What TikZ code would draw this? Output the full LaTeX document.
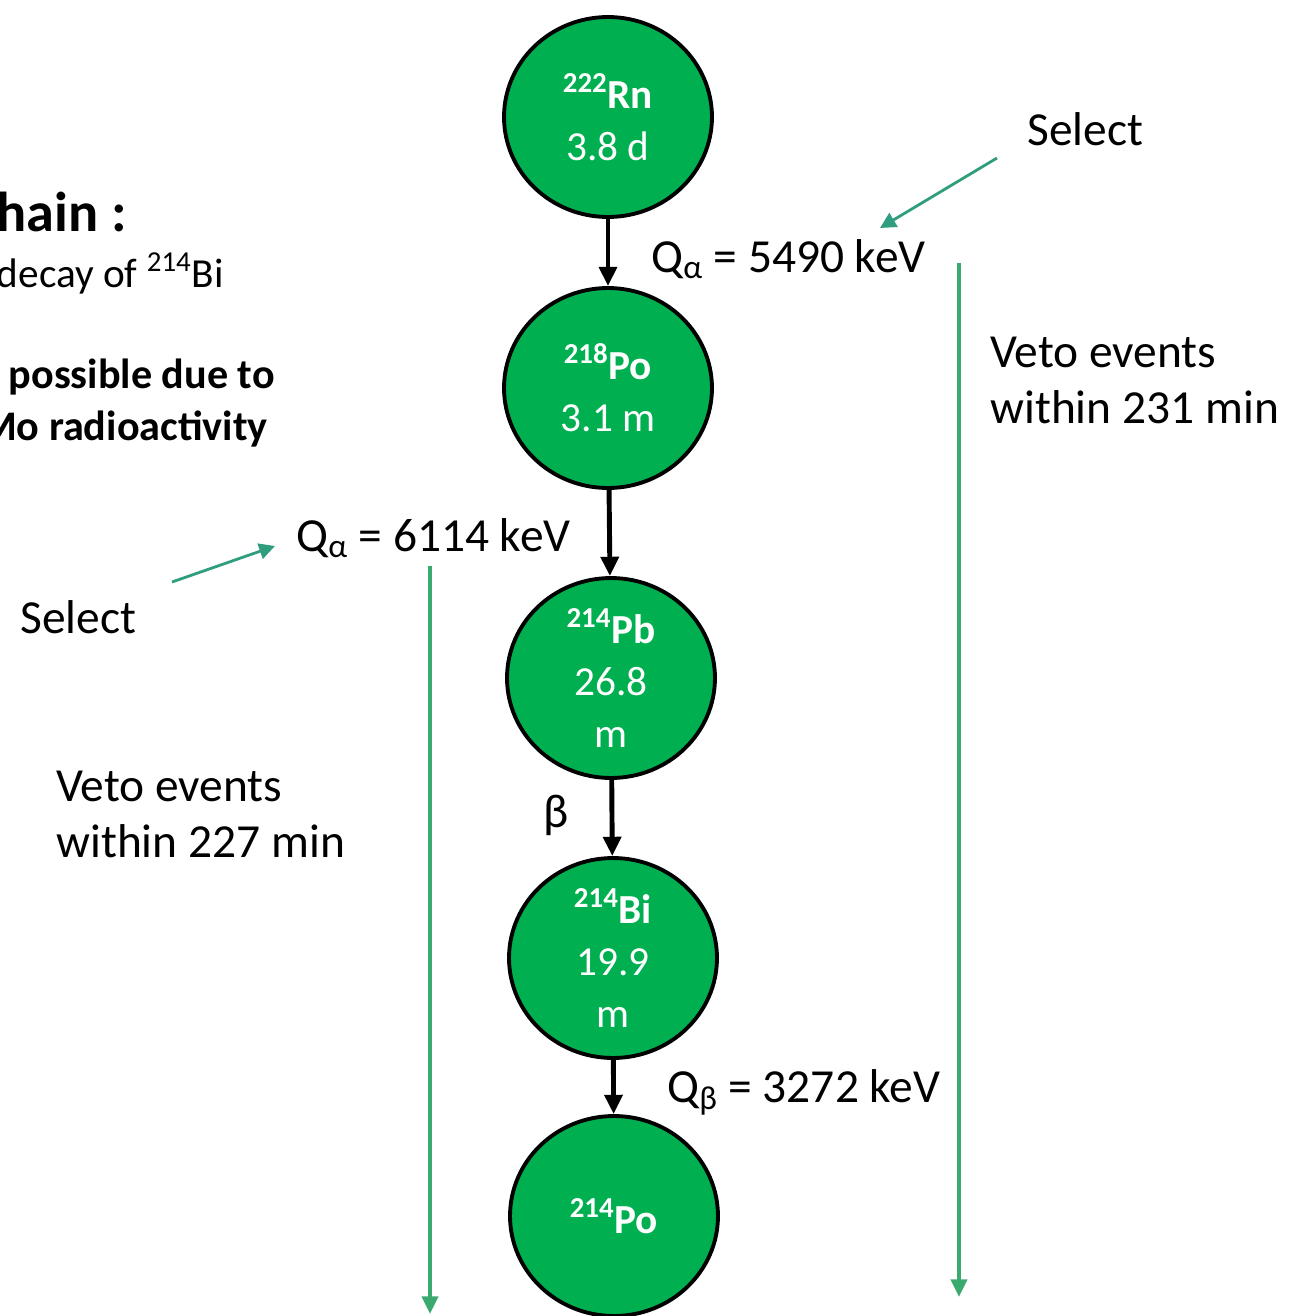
\documentclass[tikz,border=0pt]{standalone}
\usepackage{fontspec}
\setmainfont{Carlito}
\usetikzlibrary{arrows.meta,shapes.geometric}
\definecolor{nucgreen}{HTML}{00B050}
\definecolor{selgreen}{HTML}{2F9D7E}
\definecolor{vetogreen}{HTML}{3BAA6E}
\tikzset{
    nucleus/.style={ellipse, draw=black, line width=2.2pt, fill=nucgreen,
        text=white, minimum width=4.16cm, minimum height=4cm, inner sep=0pt,
        align=center, font=\fontsize{23.5}{29.5}\selectfont},
    decay/.style={-{Triangle[length=11pt,width=10pt]}, line width=2.8pt},
    veto/.style={-{Triangle[length=10pt,width=9pt]}, vetogreen, line width=2.8pt},
    pick/.style={-{Triangle[length=9pt,width=9pt]}, selgreen, line width=1.6pt},
    lbl/.style={inner sep=0pt, align=left, font=\fontsize{27}{31.8}\selectfont},
    side/.style={inner sep=0pt, font=\fontsize{23.5}{28}\selectfont},
}
\begin{document}
\begin{tikzpicture}[x=0.02cm, y=-0.02cm]
    \useasboundingbox (0,0) rectangle (1289,1316);
    % decay chain
    \node[nucleus] (rn)   at (608,117)  {{\bfseries\textsuperscript{222}Rn}\\3.8 d};
    \node[nucleus] (po218) at (608,388) {{\bfseries\textsuperscript{218}Po}\\3.1 m};
    \node[nucleus] (pb)   at (611,678)  {{\bfseries\textsuperscript{214}Pb}\\26.8\\m};
    \node[nucleus] (bi)   at (613,958)  {{\bfseries\textsuperscript{214}Bi}\\19.9\\m};
    \node[nucleus] (po214) at (614,1216) {{\bfseries\textsuperscript{214}Po}};
    \draw[decay] (rn) -- (po218);
    \draw[decay] (po218) -- (pb);
    \draw[decay] (pb) -- (bi);
    \draw[decay] (bi) -- (po214);
    % left text
    \node[side, anchor=base east, font=\fontsize{32}{38}\selectfont\bfseries] (title) at (127,231) {hain :};
    \node[side, anchor=base east] (bidecay) at (224,287) {decay of \textsuperscript{214}Bi};
    \node[side, anchor=base east, font=\fontsize{24}{28}\selectfont\bfseries] (poss) at (275,388) {possible due to};
    \node[side, anchor=base east, font=\fontsize{24}{28}\selectfont\bfseries] (moradio) at (268,440) {Mo radioactivity};
    % labels
    \node[lbl, anchor=base west] (qrn) at (651,272) {Q\textsubscript{α} = 5490 keV};
    \node[lbl, anchor=base west] (qpo) at (296,551) {Q\textsubscript{α} = 6114 keV};
    \node[lbl, anchor=base west] (qbi) at (667,1102) {Q\textsubscript{β} = 3272 keV};
    \node[lbl] (beta) at (556,815) {β};
    \node[lbl, anchor=base west] (selR) at (1027,145) {Select};
    \node[lbl, anchor=base west] (selL) at (20,633) {Select};
    \node[lbl, anchor=base west] (vetoR) at (990,423) {Veto events\\within 231 min};
    \node[lbl, anchor=base west] (vetoL) at (56,857) {Veto events\\within 227 min};
    % selection and veto arrows
    \coordinate (selRfrom) at (997,158);
    \coordinate (selRto) at (880,228);
    \coordinate (selLfrom) at (172,582);
    \coordinate (selLto) at (275,546);
    \draw[pick] (selRfrom) -- (selRto);
    \draw[pick] (selLfrom) -- (selLto);
    \coordinate (vetoRtop) at (959,263);
    \coordinate (vetoRend) at (959,1297);
    \coordinate (vetoLtop) at (430,566);
    \coordinate (vetoLend) at (430,1314);
    \draw[veto] (vetoRtop) -- (vetoRend);
    \draw[veto] (vetoLtop) -- (vetoLend);
\end{tikzpicture}
\end{document}
